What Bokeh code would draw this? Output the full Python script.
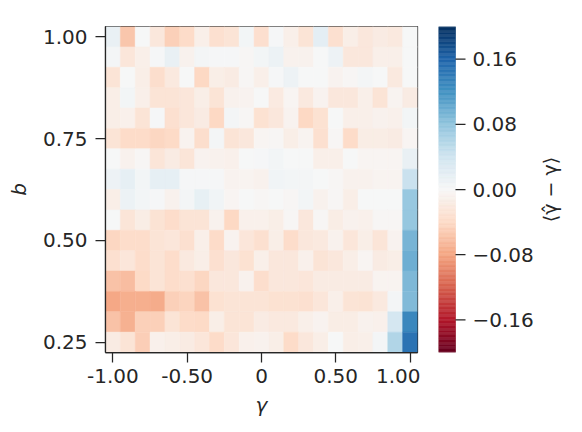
import numpy as np
from bokeh.plotting import figure
from bokeh.layouts import row
from bokeh.models import (LinearColorMapper, FixedTicker, CustomJSTickFormatter,
                          ColumnDataSource)
from bokeh.transform import transform
from bokeh.core.properties import value
from bokeh.embed import file_html
from bokeh.resources import INLINE

# ---- data -------------------------------------------------------------
gamma_vals = [-1.0, -0.9, -0.8, -0.7, -0.6, -0.5, -0.4, -0.3, -0.2, -0.1, 0.0,
              0.1, 0.2, 0.3, 0.4, 0.5, 0.6, 0.7, 0.8, 0.9, 1.0]
b_vals = [1.00, 0.95, 0.90, 0.85, 0.80, 0.75, 0.70, 0.65,
          0.60, 0.55, 0.50, 0.45, 0.40, 0.35, 0.30, 0.25]

bias_b100 = [0.015, -0.055, 0.0, -0.022, -0.048, -0.038, -0.012, -0.032, -0.027, 0.005, -0.033, 0.003, -0.011, -0.027, 0.02, -0.032, -0.013, -0.022, -0.017, -0.02, 0.0]
bias_b095 = [0.004, -0.024, -0.011, 0.002, 0.015, -0.009, 0.004, 0.003, 0.002, -0.003, 0.006, 0.012, -0.009, -0.009, 0.0, 0.01, -0.022, -0.022, -0.011, -0.011, 0.0]
bias_b090 = [-0.027, 0.0, -0.013, -0.035, -0.019, 0.0, -0.041, -0.014, -0.016, -0.002, -0.011, 0.002, 0.01, 0.0, 0.0, -0.007, -0.002, 0.004, 0.0, -0.019, 0.0]
bias_b085 = [-0.014, 0.005, -0.011, -0.028, -0.028, -0.024, -0.013, -0.028, -0.009, -0.007, 0.0, -0.018, -0.004, -0.02, -0.007, -0.022, -0.022, -0.011, -0.027, -0.005, -0.016]
bias_b080 = [-0.014, -0.01, -0.027, 0.002, -0.032, -0.024, -0.016, -0.041, 0.004, -0.002, -0.03, -0.022, -0.007, -0.041, -0.03, 0.0, -0.012, -0.011, -0.009, -0.01, 0.005]
bias_b075 = [-0.028, -0.038, -0.038, -0.043, -0.04, -0.007, -0.035, 0.004, -0.027, -0.022, -0.004, -0.002, -0.014, -0.005, -0.032, -0.003, -0.038, -0.015, -0.015, -0.016, -0.004]
bias_b070 = [0.0, -0.009, -0.002, -0.026, -0.016, -0.026, -0.007, -0.008, -0.01, 0.0, 0.003, 0.006, 0.0, 0.0, -0.011, -0.011, 0.0, -0.004, -0.004, -0.004, 0.015]
bias_b065 = [0.01, 0.018, 0.005, 0.018, 0.018, 0.002, 0.003, 0.002, -0.007, -0.005, -0.009, 0.007, 0.006, 0.004, 0.0, -0.002, -0.009, -0.009, -0.005, -0.005, 0.045]
bias_b060 = [-0.013, 0.012, 0.005, 0.003, -0.009, 0.004, 0.016, 0.007, -0.004, 0.0, -0.002, 0.0, -0.002, 0.006, -0.009, -0.002, -0.013, 0.0, 0.0, 0.0, 0.075]
bias_b055 = [0.0, -0.026, -0.015, -0.029, -0.037, -0.027, -0.027, -0.009, -0.041, -0.01, -0.01, -0.014, -0.002, -0.022, -0.002, -0.015, -0.008, -0.01, -0.002, -0.002, 0.077]
bias_b050 = [-0.043, -0.036, -0.036, -0.027, -0.024, -0.032, -0.011, -0.038, -0.007, -0.024, -0.032, -0.014, -0.036, -0.022, -0.019, -0.009, -0.024, -0.014, -0.026, -0.007, 0.093]
bias_b045 = [-0.032, -0.024, -0.036, -0.028, -0.036, -0.019, -0.013, -0.032, -0.022, -0.03, -0.011, -0.022, -0.022, -0.01, -0.027, -0.022, -0.014, -0.004, -0.016, -0.013, 0.098]
bias_b040 = [-0.058, -0.062, -0.04, -0.027, -0.037, -0.032, -0.043, -0.022, -0.022, -0.009, -0.035, -0.022, -0.022, -0.025, -0.016, -0.016, -0.016, -0.016, -0.005, -0.005, 0.09]
bias_b035 = [-0.078, -0.073, -0.073, -0.075, -0.048, -0.045, -0.059, -0.03, -0.028, -0.028, -0.027, -0.03, -0.03, -0.032, -0.024, -0.011, -0.027, -0.029, -0.02, 0.004, 0.088]
bias_b030 = [-0.058, -0.071, -0.048, -0.047, -0.027, -0.038, -0.04, -0.013, -0.027, -0.027, -0.017, -0.02, -0.02, -0.011, -0.007, -0.015, -0.015, -0.008, -0.01, 0.035, 0.131]
bias_b025 = [-0.017, -0.028, -0.05, -0.01, -0.014, -0.017, -0.024, -0.038, -0.024, -0.01, -0.009, -0.014, -0.038, -0.022, -0.013, 0.0, -0.014, -0.011, 0.004, 0.06, 0.147]

bias_rows = [bias_b100, bias_b095, bias_b090, bias_b085, bias_b080, bias_b075,
             bias_b070, bias_b065, bias_b060, bias_b055, bias_b050, bias_b045,
             bias_b040, bias_b035, bias_b030, bias_b025]

x_ticks = [-1.0, -0.5, 0.0, 0.5, 1.0]
y_ticks = [0.25, 0.50, 0.75, 1.00]
cbar_ticks = [-0.16, -0.08, 0.0, 0.08, 0.16]
cbar_low, cbar_high = -0.2, 0.2

# ---- colormap (RdBu, red for negative) ----------------------------------
anchors = ["#67001f", "#b2182b", "#d6604d", "#f4a582", "#fddbc7", "#f7f7f7",
           "#d1e5f0", "#92c5de", "#4393c3", "#2166ac", "#053061"]
rgb = np.array([[int(h[i:i + 2], 16) for i in (1, 3, 5)] for h in anchors], float)
pos = np.linspace(0, 1, len(anchors))
t = np.linspace(0, 1, 256)
palette = ["#%02x%02x%02x" % tuple(int(round(np.interp(tt, pos, rgb[:, c]))) for c in range(3))
           for tt in t]
mapper = LinearColorMapper(palette=palette, low=cbar_low, high=cbar_high)

xs, ys, vs = [], [], []
for bv, rw in zip(b_vals, bias_rows):
    for gv, v in zip(gamma_vals, rw):
        xs.append(gv)
        ys.append(bv)
        vs.append(v)
src = ColumnDataSource(dict(g=xs, b=ys, v=vs))

TXT = "#262626"
FONT = "DejaVu Sans"
TICK = 10

# ---- main heatmap -------------------------------------------------------
p = figure(frame_width=312, frame_height=326, width=420, height=424,
           x_range=(-1.05, 1.05), y_range=(0.225, 1.025),
           output_backend="svg", toolbar_location=None,
           min_border_left=105, min_border_top=26, min_border_bottom=72,
           min_border_right=3)
p.background_fill_color = "white"
p.border_fill_color = "white"
p.outline_line_color = TXT
p.outline_line_width = 1.25
p.grid.visible = False

p.rect(x="g", y="b", width=0.1, height=0.05, source=src,
       fill_color=transform("v", mapper), line_color=transform("v", mapper),
       line_width=0.5)

for ax in (p.xaxis[0], p.yaxis[0]):
    ax.axis_line_color = TXT
    ax.axis_line_width = 1.25
    ax.major_tick_line_color = TXT
    ax.major_tick_line_width = 1.25
    ax.major_tick_out = TICK
    ax.major_tick_in = 0
    ax.minor_tick_line_color = None
    ax.major_label_text_font = FONT
    ax.major_label_text_font_size = "20px"
    ax.major_label_text_color = TXT
    ax.axis_label_text_font = FONT
    ax.axis_label_text_font_size = "20px"
    ax.axis_label_text_font_style = "italic"
    ax.axis_label_text_color = TXT

p.xaxis.ticker = FixedTicker(ticks=x_ticks)
p.xaxis.formatter = CustomJSTickFormatter(
    code="return Math.abs(tick) < 1e-9 ? '0' : tick.toFixed(2);")
p.xaxis.axis_label = "γ"
p.xaxis.major_label_standoff = 6
p.xaxis.axis_label_standoff = 7

p.yaxis.ticker = FixedTicker(ticks=y_ticks)
p.yaxis.formatter = CustomJSTickFormatter(code="return tick.toFixed(2);")
p.yaxis.axis_label = "b"
p.yaxis.major_label_standoff = 8
p.yaxis.axis_label_standoff = 9

# ---- colour bar (separate panel, pixel-unit x range) -------------------
cb_w = 132
cb = figure(frame_width=cb_w, frame_height=326, width=150, height=424,
            x_range=(0, cb_w), y_range=(cbar_low, cbar_high),
            output_backend="svg", toolbar_location=None,
            x_axis_location=None, y_axis_location=None,
            min_border_left=18, min_border_top=26, min_border_bottom=72,
            min_border_right=0)
cb.background_fill_color = "white"
cb.border_fill_color = "white"
cb.outline_line_color = None
cb.grid.visible = False

n = len(palette)
step = (cbar_high - cbar_low) / n
bar_y = [cbar_low + (i + 0.5) * step for i in range(n)]
cb.rect(x=8.5, y=bar_y, width=17, height=step, fill_color=palette,
        line_color=palette, line_width=0.5)

cbar_labels = [("\u2212" if tk < 0 else "") + "%.2f" % abs(tk) for tk in cbar_ticks]
cb.segment(x0=17, x1=17 + TICK, y0=cbar_ticks, y1=cbar_ticks,
           line_color=TXT, line_width=1.25)
cb.text(x=34, y=cbar_ticks, text=cbar_labels, text_align="left",
        text_baseline="middle", text_font=value(FONT), text_font_size="20px",
        text_color=TXT)
cb.text(x=[111], y=[(cbar_low + cbar_high) / 2], text=["⟨γ̂ − γ⟩"],
        angle=np.pi / 2, text_align="center", text_baseline="middle",
        text_font=value(FONT), text_font_size="19px", text_color=TXT)

layout = row(p, cb)
open("out.html", "w").write(file_html(layout, INLINE))
